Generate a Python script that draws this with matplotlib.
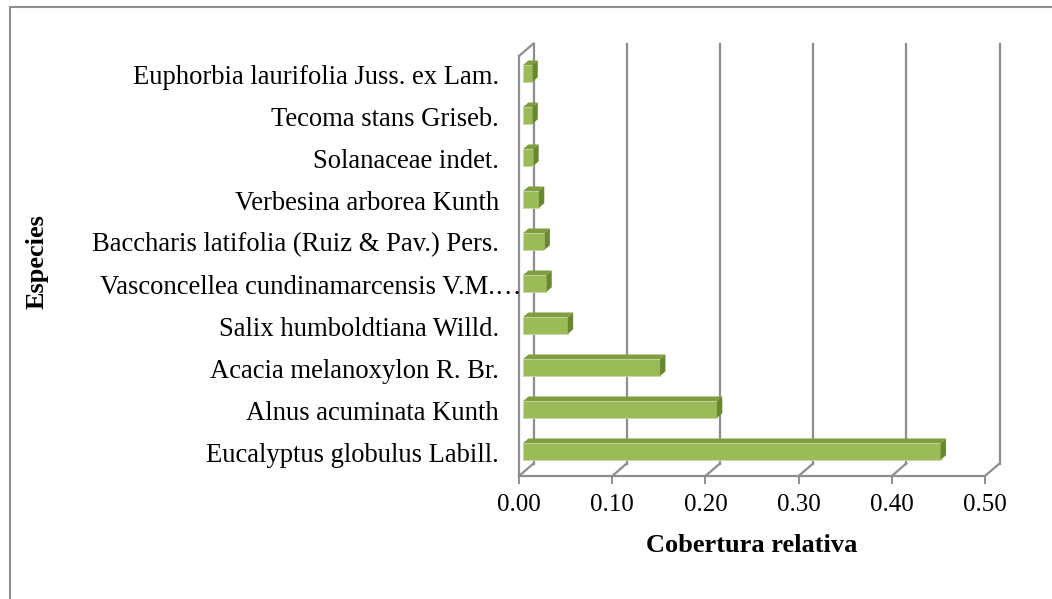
import matplotlib
matplotlib.use("Agg")
import matplotlib.pyplot as plt
from matplotlib.patches import Rectangle, Polygon

# Relative cover per species (bottom to top)
species = [
    "Eucalyptus globulus Labill.",
    "Alnus acuminata Kunth",
    "Acacia melanoxylon R. Br.",
    "Salix humboldtiana Willd.",
    "Vasconcellea cundinamarcensis V.M.\u2026",
    "Baccharis latifolia (Ruiz & Pav.) Pers.",
    "Verbesina arborea Kunth",
    "Solanaceae indet.",
    "Tecoma stans Griseb.",
    "Euphorbia laurifolia Juss. ex Lam.",
]
cover = [0.448, 0.208, 0.147, 0.048, 0.025, 0.023, 0.017, 0.011, 0.010, 0.010]
ticks = [0.0, 0.1, 0.2, 0.3, 0.4, 0.5]

plt.rcParams["font.family"] = ["Liberation Serif", "DejaVu Serif"]

FRONT = "#9BBB59"
TOP = "#7F9E40"
SIDE = "#68872F"
GRID = "#8E8E8E"

fig = plt.figure(figsize=(10.52, 5.99), dpi=100)
ax = fig.add_axes([519 / 1052, 123 / 599, 466 / 1052, 420 / 599])
ax.set_xlim(0, 0.5)
ax.set_ylim(-0.5, 9.5)

# depth of the 3D box, in data units
dxv = 14.5 / 932
dyc = 12.5 / 42
f1, f2 = 0.28, 0.65   # front / back of the bars inside the depth
h = 0.40

# back wall gridlines and floor diagonals
for t in ticks:
    ax.plot([t + dxv, t + dxv], [-0.5 + dyc, 9.5 + dyc], color=GRID, lw=1.6,
            clip_on=False, zorder=1)
    ax.plot([t, t + dxv], [-0.5, -0.5 + dyc], color=GRID, lw=1.6,
            clip_on=False, zorder=1)
# top edge of the side wall
ax.plot([0, dxv], [9.5, 9.5 + dyc], color=GRID, lw=1.6, clip_on=False, zorder=1)

# 3D bars
for i, v in enumerate(cover):
    x0 = f1 * dxv
    y0 = i - h / 2 + f1 * dyc
    sx = (f2 - f1) * dxv
    sy = (f2 - f1) * dyc
    ax.add_patch(Rectangle((x0, y0), v, h, facecolor=FRONT,
                           edgecolor="#C9DAA6", lw=0.6, zorder=3, clip_on=False))
    ax.add_patch(Polygon([(x0, y0 + h), (x0 + v, y0 + h),
                          (x0 + v + sx, y0 + h + sy), (x0 + sx, y0 + h + sy)],
                         closed=True, facecolor=TOP, edgecolor="none",
                         zorder=3, clip_on=False))
    ax.add_patch(Polygon([(x0 + v, y0), (x0 + v, y0 + h),
                          (x0 + v + sx, y0 + h + sy), (x0 + v + sx, y0 + sy)],
                         closed=True, facecolor=SIDE, edgecolor="none",
                         zorder=3, clip_on=False))

for side in ["top", "right"]:
    ax.spines[side].set_visible(False)
for side in ["left", "bottom"]:
    ax.spines[side].set_color(GRID)
    ax.spines[side].set_linewidth(1.6)
    ax.spines[side].set_zorder(2)
ax.patch.set_visible(False)

ax.set_xticks(ticks)
ax.set_xticklabels([f"{t:.2f}" for t in ticks], fontsize=18)
ax.tick_params(axis="x", direction="out", length=6, width=1.4, color=GRID, pad=7)
ax.set_yticks([])

# category labels
for i, name in enumerate(species):
    off = 3 if name.endswith("\u2026") else -20
    ax.annotate(name, xy=(0, i), xytext=(off * 0.72, 0), textcoords="offset points",
                ha="right", va="center", fontsize=19.2, annotation_clip=False)

fig.text(752 / 1052, 1 - 545 / 599, "Cobertura relativa", fontsize=19,
         fontweight="bold", ha="center", va="center")
fig.text(37 / 1052, 1 - 262 / 599, "Especies", fontsize=19, fontweight="bold",
         rotation=90, ha="center", va="center")

# chart frame (left and top edges)
fig.add_artist(plt.Line2D([10 / 1052, 10 / 1052], [0, 1 - 7 / 599], color=GRID, lw=1.5))
fig.add_artist(plt.Line2D([10 / 1052, 1], [1 - 7 / 599, 1 - 7 / 599], color=GRID, lw=1.5))

fig.savefig("out.png", dpi=100)
